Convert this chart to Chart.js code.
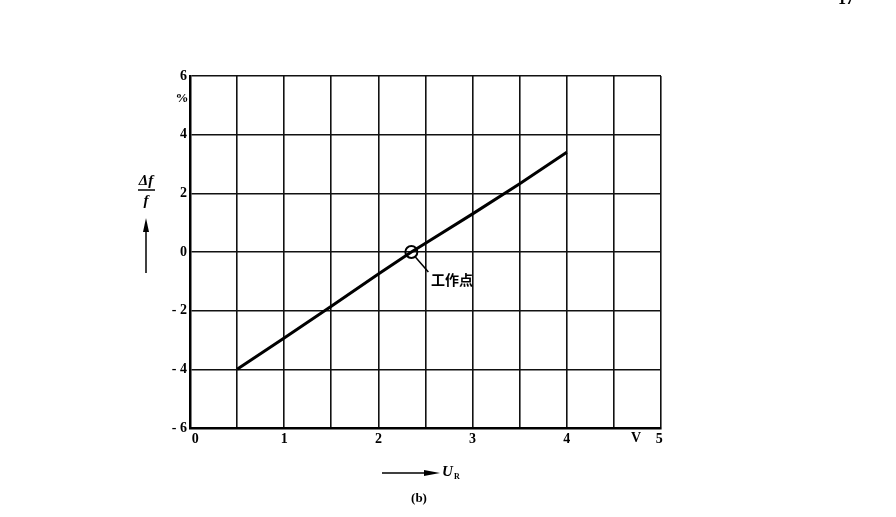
<!DOCTYPE html>
<html>
<head>
<meta charset="utf-8">
<script src="https://cdn.jsdelivr.net/npm/chart.js@4/dist/chart.umd.min.js"></script>
<style>
  html, body { margin: 0; padding: 0; background: #fff; }
  canvas { display: block; }
</style>
</head>
<body>
<canvas id="chart" width="896" height="517"></canvas>
<script>
// values (U_R in V, Δf/f in %)
const uR = [0.5, 1, 1.5, 2, 2.35, 2.5, 3, 3.5, 4];
const dfPct = [-4, -2.93, -1.85, -0.75, 0, 0.3, 1.3, 2.33, 3.4];
const workPoint = [2.35, 0];
const xTicks = [0, 1, 2, 3, 4, 5];
const yTicks = [6, 4, 2, 0, -2, -4, -6];

const serif = '"Liberation Serif", "DejaVu Serif", serif';

const extras = {
  id: 'extras',
  afterDraw(chart) {
    const c = chart.ctx;
    const xs = chart.scales.x, ys = chart.scales.y;
    c.save();
    c.fillStyle = '#000';
    c.strokeStyle = '#000';

    // page number (cut at top)
    c.font = 'bold 16px ' + serif;
    c.textAlign = 'left';
    c.textBaseline = 'alphabetic';
    c.fillText('17', 838, 4);

    // percent sign
    c.font = 'bold 13px ' + serif;
    c.textAlign = 'center';
    c.textBaseline = 'middle';
    c.fillText('%', 182, 99);

    // y title Δf / f with arrow
    c.font = 'bold italic 15px ' + serif;
    c.fillText('Δf', 146, 181);
    c.lineWidth = 1.5;
    c.beginPath(); c.moveTo(138, 190); c.lineTo(155, 190); c.stroke();
    c.fillText('f', 146, 201);
    c.beginPath(); c.moveTo(146, 273); c.lineTo(146, 228); c.stroke();
    c.beginPath(); c.moveTo(146, 218); c.lineTo(143, 232); c.lineTo(149, 232); c.closePath(); c.fill();

    // V unit on x axis
    c.font = 'bold 14px ' + serif;
    c.fillText('V', 636, 438);

    // x title arrow + U_R
    c.beginPath(); c.moveTo(382, 473); c.lineTo(430, 473); c.stroke();
    c.beginPath(); c.moveTo(440, 473); c.lineTo(424, 470); c.lineTo(424, 476); c.closePath(); c.fill();
    c.font = 'bold italic 15px ' + serif;
    c.textAlign = 'left';
    c.fillText('U', 442, 472);
    c.font = 'bold 8px ' + serif;
    c.fillText('R', 454, 477);
    c.font = 'bold 13px ' + serif;
    c.textAlign = 'center';
    c.fillText('(b)', 419, 499);

    // working point leader + label
    const px = xs.getPixelForValue(workPoint[0]);
    const py = ys.getPixelForValue(workPoint[1]);
    c.beginPath(); c.moveTo(px + 4, py + 5); c.lineTo(px + 17, py + 20); c.stroke();
    c.font = 'bold 14px "Noto Sans CJK SC", sans-serif';
    c.textAlign = 'left';
    c.fillText('工作点', 431, 280);
    c.restore();
  }
};

new Chart(document.getElementById('chart'), {
  type: 'line',
  data: {
    datasets: [
      {
        data: uR.map((u, i) => ({ x: u, y: dfPct[i] })),
        borderColor: '#000',
        borderWidth: 3,
        pointRadius: 0,
        tension: 0,
        fill: false
      },
      {
        data: [{ x: workPoint[0], y: workPoint[1] }],
        showLine: false,
        pointRadius: 6,
        pointBorderWidth: 2,
        pointBorderColor: '#000',
        pointBackgroundColor: 'rgba(0,0,0,0)'
      }
    ]
  },
  options: {
    responsive: false,
    animation: false,
    layout: { padding: { top: 76, right: 235, left: 0, bottom: 0 } },
    plugins: { legend: { display: false }, tooltip: { enabled: false } },
    scales: {
      x: {
        type: 'linear',
        min: 0,
        max: 5,
        afterFit(s) { s.height = 89; },
        ticks: {
          stepSize: 0.5,
          padding: 3,
          color: '#000',
          font: { family: serif, size: 14, weight: 'bold' },
          callback: v => xTicks.includes(v) ? (v === 0 ? '   0' : v === 5 ? '5 ' : String(v)) : ''
        },
        grid: { color: '#111', lineWidth: 1.6, drawTicks: false },
        border: { color: '#000', width: 2.5 }
      },
      y: {
        min: -6,
        max: 6,
        afterFit(s) { s.width = 190; },
        ticks: {
          stepSize: 2,
          padding: 3,
          color: '#000',
          font: { family: serif, size: 14, weight: 'bold' },
          callback: v => yTicks.includes(v) ? (v < 0 ? '- ' + Math.abs(v) : String(v)) : ''
        },
        grid: { color: '#111', lineWidth: 1.6, drawTicks: false },
        border: { color: '#000', width: 2.5 }
      }
    }
  },
  plugins: [extras]
});
</script>
</body>
</html>
